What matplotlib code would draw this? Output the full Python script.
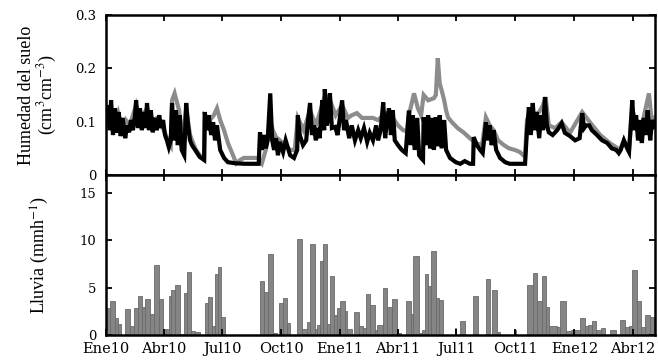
import numpy as np
import matplotlib
matplotlib.use('Agg')
import matplotlib.pyplot as plt
import matplotlib.dates as mdates

# dias desde el 1 de enero de 2010
inicio = np.datetime64('2010-01-01')
fin_dias = 855

meses = ['Ene10', 'Abr10', 'Jul10', 'Oct10', 'Ene11', 'Abr11', 'Jul11', 'Oct11', 'Ene12', 'Abr12']
meses_fecha = ['2010-01-01', '2010-04-01', '2010-07-01', '2010-10-01', '2011-01-01',
               '2011-04-01', '2011-07-01', '2011-10-01', '2012-01-01', '2012-04-01']

# humedad del suelo, serie negra (cm3 cm-3)
negra_dia = [0, 3, 6, 8, 11, 14, 17, 20, 23, 26, 30, 33, 36, 39, 42, 45, 47, 50, 53, 56,
             59, 62, 64, 67, 70, 73, 76, 79, 83, 86, 89, 92, 95, 98, 101, 103, 106, 109, 112, 115,
             118, 122, 125, 128, 131, 134, 139, 146, 153, 154, 157, 160, 164, 167, 170, 173, 178, 184, 190, 201,
             217, 238, 240, 243, 246, 249, 252, 256, 259, 262, 265, 268, 271, 276, 280, 287, 293, 298, 299, 302,
             307, 312, 315, 318, 321, 324, 327, 330, 333, 337, 340, 341, 344, 347, 349, 352, 357, 361, 368, 371,
             374, 379, 383, 388, 393, 397, 402, 407, 411, 416, 421, 424, 428, 432, 435, 438, 441, 444, 447, 450,
             455, 461, 467, 472, 475, 478, 481, 485, 488, 491, 494, 495, 499, 502, 505, 508, 511, 514, 517, 520,
             523, 527, 530, 536, 545, 552, 559, 567, 572, 573, 578, 583, 587, 592, 595, 598, 601, 604, 608, 614,
             622, 629, 653, 656, 659, 662, 665, 668, 671, 675, 678, 681, 684, 687, 690, 696, 703, 710, 715, 723,
             731, 738, 742, 745, 748, 753, 757, 765, 773, 781, 788, 795, 799, 802, 807, 812, 815, 820, 823, 826,
             829, 832, 835, 838, 841, 844, 848, 851, 855]
negra_hum = [.103, .131, .084, .140, .075, .125, .079, .118, .073, .107, .069, .093, .080, .103, .084, .107, .140, .088, .125, .084,
             .118, .088, .135, .084, .121, .080, .107, .084, .112, .088, .103, .075, .065, .052, .065, .135, .065, .121, .056, .112,
             .047, .037, .135, .093, .065, .056, .047, .034, .028, .118, .084, .112, .075, .099, .065, .093, .047, .032, .024, .022,
             .021, .021, .080, .047, .075, .050, .065, .153, .065, .047, .069, .037, .062, .043, .065, .037, .032, .047, .112, .075,
             .056, .065, .103, .135, .075, .093, .065, .088, .069, .140, .084, .161, .093, .112, .153, .088, .090, .075, .140, .084,
             .103, .069, .093, .065, .084, .069, .088, .062, .079, .065, .093, .065, .084, .136, .069, .103, .125, .075, .121, .065,
             .056, .047, .041, .121, .056, .112, .047, .107, .037, .032, .028, .108, .056, .112, .050, .107, .047, .108, .054, .112,
             .050, .103, .047, .032, .024, .021, .026, .021, .021, .071, .056, .047, .041, .099, .065, .093, .056, .084, .047, .032,
             .024, .021, .021, .084, .127, .075, .135, .084, .118, .069, .112, .084, .146, .093, .080, .075, .084, .097, .079, .073,
             .065, .069, .116, .088, .093, .093, .084, .075, .065, .060, .050, .047, .041, .047, .065, .050, .043, .140, .084, .112,
             .065, .103, .060, .107, .075, .121, .065, .103, .090]

# humedad del suelo, serie gris
gris_dia = [0, 6, 12, 19, 25, 31, 37, 47, 53, 64, 72, 81, 90, 97, 101, 103, 107, 114, 120, 125,
            131, 139, 146, 153, 154, 162, 168, 173, 178, 184, 190, 198, 203, 209, 215, 237, 243, 249, 256, 260,
            265, 271, 279, 287, 294, 299, 308, 318, 327, 337, 341, 349, 358, 368, 377, 383, 391, 399, 408, 416,
            424, 432, 441, 447, 455, 463, 469, 472, 480, 486, 491, 495, 502, 511, 514, 517, 520, 523, 527, 530,
            533, 539, 548, 558, 567, 576, 586, 592, 598, 604, 611, 620, 628, 637, 645, 653, 656, 662, 668, 675,
            681, 685, 690, 700, 710, 723, 742, 754, 770, 785, 801, 807, 815, 820, 829, 835, 846, 851, 855]
gris_hum = [.107, .121, .088, .116, .084, .103, .093, .131, .103, .125, .103, .107, .084, .065, .056, .140, .153, .121, .065, .125,
            .075, .050, .037, .032, .112, .103, .112, .125, .103, .084, .060, .037, .022, .028, .032, .032, .022, .047, .103, .084,
            .071, .065, .056, .047, .047, .107, .084, .121, .093, .131, .150, .140, .112, .131, .107, .112, .116, .107, .107, .107,
            .103, .112, .118, .107, .093, .084, .082, .112, .153, .125, .112, .150, .140, .144, .150, .219, .172, .159, .140, .121,
            .108, .099, .088, .079, .069, .060, .056, .108, .093, .084, .065, .056, .050, .047, .043, .034, .103, .121, .112, .118,
            .131, .146, .093, .088, .099, .079, .118, .099, .075, .060, .047, .065, .047, .121, .093, .093, .153, .093, .107]

# lluvia (mm h-1): dia de inicio de cada barra y valor
lluvia_dia = [1, 7, 14, 19, 24, 30, 37, 43, 50, 56,
              61, 68, 75, 82, 89, 94, 99, 102, 108, 115,
              122, 127, 133, 139, 146, 154, 159, 165, 170, 174,
              180, 185, 240, 246, 253, 260, 266, 270, 276, 282,
              286, 297, 306, 313, 318, 325, 329, 334, 338, 345,
              349, 355, 360, 365, 372, 376, 383, 386, 395, 400,
              405, 412, 419, 423, 431, 438, 445, 453, 459, 468,
              475, 479, 487, 493, 497, 502, 507, 515, 519, 525,
              544, 546, 551, 559, 572, 580, 592, 599, 602, 610,
              614, 636, 639, 656, 665, 672, 679, 686, 691, 702,
              708, 717, 725, 739, 746, 751, 757, 764, 771, 777,
              786, 794, 801, 808, 815, 820, 827, 833, 840, 847,
              854]
lluvia_mm = [2.8, 3.6, 1.8, 1.2, 0, 2.7, 1.0, 2.9, 4.1, 3.0,
             3.8, 2.2, 7.4, 3.8, 0.6, 0.6, 4.1, 4.7, 5.3, 0.1,
             4.4, 6.7, 0.4, 0.3, 0, 3.4, 4.0, 1.0, 6.4, 7.2,
             1.9, 0, 5.7, 4.5, 8.6, 0.2, 0, 3.4, 3.9, 1.3,
             0, 10.1, 0.6, 1.4, 9.6, 0.6, 1.05, 7.8, 9.6, 1.2,
             6.2, 2.1, 2.9, 3.6, 2.5, 0.6, 0, 2.4, 0.9, 0.7,
             4.3, 3.2, 0.5, 1.05, 5.0, 3.0, 3.75, 0.2, 0, 3.6,
             2.2, 8.3, 0.2, 0.5, 6.4, 5.2, 8.9, 3.9, 3.7, 0,
             0.7, 0, 1.5, 0, 4.1, 0, 5.9, 0, 4.7, 0.35,
             0, 0.5, 0, 5.3, 6.6, 3.6, 6.2, 3.0, 0.9, 0.8,
             3.6, 0.4, 0.55, 1.8, 0.9, 1.1, 1.5, 0.55, 0.7, 0,
             0.55, 0, 1.6, 0.8, 1.0, 6.9, 3.6, 0.8, 2.1, 1.9,
             1.1]


def a_num(dias):
    fechas = inicio + np.array(dias).astype('timedelta64[D]')
    return mdates.date2num(fechas)


plt.rcParams['mathtext.fontset'] = 'stix'

fig = plt.figure(figsize=(6.58, 3.62), dpi=100)
ax1 = fig.add_axes([0.161, 0.5166, 0.834, 0.442])
ax2 = fig.add_axes([0.161, 0.0746, 0.834, 0.442])

x0 = a_num([0])[0]
x1 = a_num([fin_dias])[0]

# panel superior: humedad
ax1.plot(a_num(gris_dia), gris_hum, color='#8c8c8c', lw=3.0, solid_joinstyle='miter')
ax1.plot(a_num(negra_dia), negra_hum, color='black', lw=3.0, solid_joinstyle='miter')
ax1.set_ylim(0, 0.3)
ax1.set_yticks([0, 0.1, 0.2, 0.3])
ax1.set_yticklabels(['0', '0.1', '0.2', '0.3'])

# panel inferior: lluvia
xl = a_num(lluvia_dia)
anchos = np.diff(np.append(xl, x1 + 2))
ax2.bar(xl, lluvia_mm, width=anchos, align='edge', color='#858585',
        edgecolor='#6a6a6a', linewidth=0.6)
ax2.set_ylim(0, 16.9)
ax2.set_yticks([0, 5, 10, 15])

for ax in (ax1, ax2):
    ax.set_xlim(x0, x1)
    ax.set_xticks(a_num([(np.datetime64(m) - inicio).astype(int) for m in meses_fecha]))
    ax.tick_params(direction='in', top=True, right=True, length=4, width=1.3,
                   labelsize=10.5, pad=7)
    ax.tick_params(axis='y', labelsize=9.5)
    for s in ax.spines.values():
        s.set_linewidth(1.8)
    for lab in ax.get_xticklabels() + ax.get_yticklabels():
        lab.set_family('DejaVu Serif')

ax1.set_xticklabels([])
ax2.set_xticklabels(meses)
ax2.tick_params(axis='x', pad=5)

ax1.set_ylabel('Humedad del suelo\n(cm$^3$cm$^{-3}$)', family='Liberation Serif',
               fontsize=13, linespacing=1.1)
ax1.yaxis.set_label_coords(-0.085, 0.5)
ax2.set_ylabel('Lluvia (mmh$^{-1}$)', family='Liberation Serif', fontsize=13)
ax2.yaxis.set_label_coords(-0.1, 0.5)

fig.savefig('out.png', dpi=100)
